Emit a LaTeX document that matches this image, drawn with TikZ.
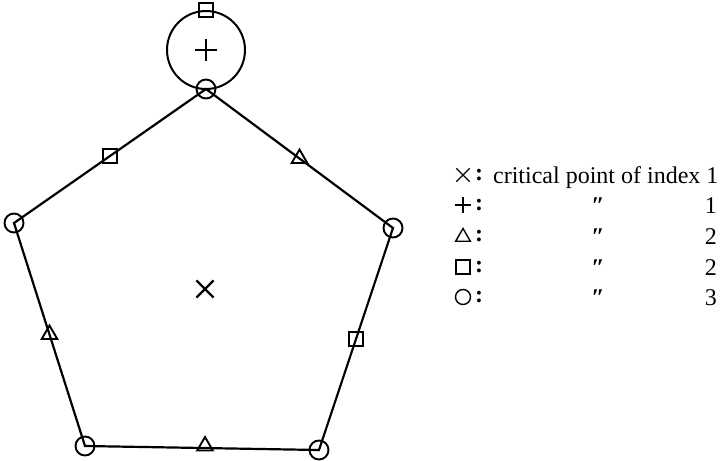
\documentclass[tikz,border=0pt]{standalone}
\usepackage{fontspec}
\setmainfont{Liberation Serif}
\usetikzlibrary{shapes.geometric,shapes.misc,calc}
\begin{document}
\begin{tikzpicture}[x=1pt,y=-1pt,line width=2.2pt,
  vtx/.style={circle,draw,inner sep=0pt,minimum size=19pt,line width=1.9pt},
  sqm/.style={rectangle,draw,inner sep=0pt,minimum size=14pt,line width=1.9pt},
  trim/.style={regular polygon,regular polygon sides=3,draw,inner sep=0pt,minimum size=18pt,line width=1.9pt},
  crs/.style={cross out,draw,inner sep=0pt,minimum size=15pt,line width=2.2pt},
  lsym/.style={line width=1.4pt},
  ltxt/.style={inner sep=0pt,font=\fontsize{24}{28}\selectfont}]
\useasboundingbox (0,0) rectangle (724,461);
% vertices
\node[vtx] (T) at (206,89) {};
\node[vtx] (L) at (14,223) {};
\node[vtx] (R) at (393,228) {};
\node[vtx] (BL) at (85,446) {};
\node[vtx] (BR) at (319,450) {};
% edges
\draw (T.center) -- (L.center) -- (BL.center) -- (BR.center) -- (R.center) -- (T.center);
% big circle
\node[circle,draw,inner sep=0pt,minimum size=78pt,line width=2pt] (C) at (206,50) {};
\draw (C.center) +(-11,0) -- +(11,0);
\draw (C.center) +(0,-11) -- +(0,11);
\node[sqm] (CS) at (C.north) {};
% edge markers
\node[sqm] (m1) at ($(T)!0.5!(L)$) {};
\node[trim] (m2) at ($(T)!0.5!(R)$) {};
\node[trim] (m3) at ($(L)!0.5!(BL)$) {};
\node[sqm] (m4) at ($(R)!0.5!(BR)$) {};
\node[trim] (m5) at (205,446) {};
\node[crs] (X) at (205,289) {};
% legend
\node[cross out,draw,lsym,inner sep=0pt,minimum size=12pt] (s1) at (463,175) {};
\node[inner sep=0pt,minimum size=16pt,path picture={\draw[lsym] (path picture bounding box.west) -- (path picture bounding box.east) (path picture bounding box.north) -- (path picture bounding box.south);}] (s2) at (463,205) {};
\node[regular polygon,regular polygon sides=3,draw,lsym,inner sep=0pt,minimum size=17pt] (s3) at (463,237) {};
\node[rectangle,draw,lsym,inner sep=0pt,minimum size=14pt] (s4) at (463,267) {};
\node[circle,draw,lsym,inner sep=0pt,minimum size=15pt] (s5) at (463,297) {};
\foreach \y [count=\i] in {175,205,236,267,297}{
  \node[ltxt] (c\i) at (479,\y) {\textbf{:}};
}
\node[ltxt,anchor=base west] (t1) at (492,183) {critical point of index 1};
\foreach \y/\n [count=\i from 2] in {213/1,244/2,275/2,305/3}{
  \node[ltxt,anchor=base] (d\i) at (598,\y) {\textit{\textbf{″}}};
  \node[ltxt,anchor=base east] (n\i) at (718,\y) {\n};
}
\end{tikzpicture}
\end{document}
